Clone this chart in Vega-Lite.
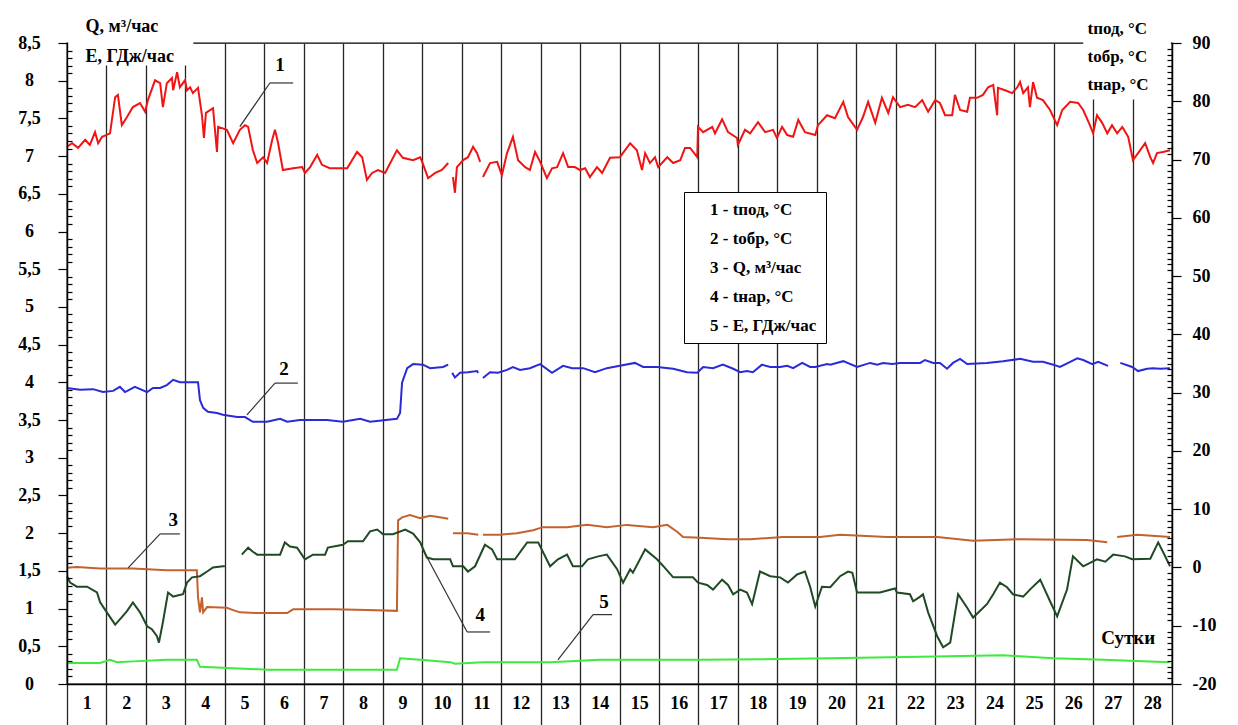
{
"$schema":"https://vega.github.io/schema/vega-lite/v6.json",
"width":1105,"height":641,
"autosize":{"type":"none"},
"padding":{"left":67,"top":43,"right":66,"bottom":41},
"background":"#ffffff",
"config":{"view":{"stroke":"#000000","strokeWidth":1.3},"font":"Liberation Serif"},
"datasets":{
"T":[
{"s":"1","g":"a","d":0.00,"v":72.2},{"s":"1","g":"a","d":0.13,"v":72.8},{"s":"1","g":"a","d":0.28,"v":72.0},{"s":"1","g":"a","d":0.46,"v":73.4},{"s":"1","g":"a","d":0.58,"v":72.5},{"s":"1","g":"a","d":0.71,"v":74.7},{"s":"1","g":"a","d":0.79,"v":72.8},{"s":"1","g":"a","d":0.89,"v":73.9},{"s":"1","g":"a","d":0.99,"v":74.2},{"s":"1","g":"a","d":1.09,"v":74.5},{"s":"1","g":"a","d":1.22,"v":80.7},{"s":"1","g":"a","d":1.29,"v":81.1},{"s":"1","g":"a","d":1.39,"v":75.9},{"s":"1","g":"a","d":1.52,"v":77.3},{"s":"1","g":"a","d":1.67,"v":79.0},{"s":"1","g":"a","d":1.85,"v":79.7},{"s":"1","g":"a","d":1.98,"v":78.2},{"s":"1","g":"a","d":2.05,"v":80.2},{"s":"1","g":"a","d":2.23,"v":83.6},{"s":"1","g":"a","d":2.36,"v":83.1},{"s":"1","g":"a","d":2.43,"v":79.0},{"s":"1","g":"a","d":2.53,"v":83.1},{"s":"1","g":"a","d":2.66,"v":84.0},{"s":"1","g":"a","d":2.69,"v":81.9},{"s":"1","g":"a","d":2.79,"v":85.0},{"s":"1","g":"a","d":2.86,"v":82.4},{"s":"1","g":"a","d":2.99,"v":83.6},{"s":"1","g":"a","d":3.04,"v":81.9},{"s":"1","g":"a","d":3.12,"v":82.4},{"s":"1","g":"a","d":3.19,"v":81.4},{"s":"1","g":"a","d":3.32,"v":82.3},{"s":"1","g":"a","d":3.42,"v":77.6},{"s":"1","g":"a","d":3.47,"v":73.7},{"s":"1","g":"a","d":3.52,"v":78.0},{"s":"1","g":"a","d":3.70,"v":78.8},{"s":"1","g":"a","d":3.80,"v":71.3},{"s":"1","g":"a","d":3.83,"v":75.6},{"s":"1","g":"a","d":3.93,"v":75.4},{"s":"1","g":"a","d":4.05,"v":75.1},{"s":"1","g":"a","d":4.21,"v":72.8},{"s":"1","g":"a","d":4.38,"v":75.1},{"s":"1","g":"a","d":4.51,"v":75.9},{"s":"1","g":"a","d":4.59,"v":75.6},{"s":"1","g":"a","d":4.71,"v":71.6},{"s":"1","g":"a","d":4.82,"v":69.4},{"s":"1","g":"a","d":4.97,"v":70.4},{"s":"1","g":"a","d":5.07,"v":69.4},{"s":"1","g":"a","d":5.20,"v":73.4},{"s":"1","g":"a","d":5.27,"v":75.1},{"s":"1","g":"a","d":5.35,"v":72.8},{"s":"1","g":"a","d":5.47,"v":68.2},{"s":"1","g":"a","d":5.73,"v":68.5},{"s":"1","g":"a","d":5.96,"v":68.7},{"s":"1","g":"a","d":6.03,"v":67.7},{"s":"1","g":"a","d":6.16,"v":68.7},{"s":"1","g":"a","d":6.34,"v":70.8},{"s":"1","g":"a","d":6.46,"v":69.1},{"s":"1","g":"a","d":6.66,"v":68.5},{"s":"1","g":"a","d":7.10,"v":68.5},{"s":"1","g":"a","d":7.35,"v":71.3},{"s":"1","g":"a","d":7.48,"v":70.4},{"s":"1","g":"a","d":7.60,"v":66.5},{"s":"1","g":"a","d":7.73,"v":67.7},{"s":"1","g":"a","d":7.88,"v":68.2},{"s":"1","g":"a","d":8.06,"v":67.7},{"s":"1","g":"a","d":8.36,"v":71.6},{"s":"1","g":"a","d":8.51,"v":70.3},{"s":"1","g":"a","d":8.77,"v":69.9},{"s":"1","g":"a","d":8.95,"v":70.4},{"s":"1","g":"a","d":9.00,"v":69.6},{"s":"1","g":"a","d":9.15,"v":66.8},{"s":"1","g":"a","d":9.33,"v":67.7},{"s":"1","g":"a","d":9.50,"v":68.2},{"s":"1","g":"a","d":9.66,"v":69.4},
{"s":"1","g":"b","d":9.78,"v":67.0},{"s":"1","g":"b","d":9.83,"v":64.3},{"s":"1","g":"b","d":9.88,"v":68.7},{"s":"1","g":"b","d":10.04,"v":69.9},{"s":"1","g":"b","d":10.16,"v":70.4},{"s":"1","g":"b","d":10.29,"v":72.2},{"s":"1","g":"b","d":10.39,"v":71.1},{"s":"1","g":"b","d":10.47,"v":69.6},
{"s":"1","g":"c","d":10.54,"v":67.0},{"s":"1","g":"c","d":10.72,"v":69.4},{"s":"1","g":"c","d":10.90,"v":69.6},{"s":"1","g":"c","d":11.02,"v":67.3},{"s":"1","g":"c","d":11.15,"v":71.1},{"s":"1","g":"c","d":11.30,"v":73.9},{"s":"1","g":"c","d":11.43,"v":69.9},{"s":"1","g":"c","d":11.61,"v":68.7},{"s":"1","g":"c","d":11.73,"v":68.2},{"s":"1","g":"c","d":11.86,"v":71.3},{"s":"1","g":"c","d":11.99,"v":69.6},{"s":"1","g":"c","d":12.16,"v":66.8},{"s":"1","g":"c","d":12.29,"v":68.5},{"s":"1","g":"c","d":12.42,"v":68.7},{"s":"1","g":"c","d":12.57,"v":71.1},{"s":"1","g":"c","d":12.70,"v":68.7},{"s":"1","g":"c","d":12.87,"v":68.7},{"s":"1","g":"c","d":13.00,"v":68.2},{"s":"1","g":"c","d":13.13,"v":68.5},{"s":"1","g":"c","d":13.25,"v":67.0},{"s":"1","g":"c","d":13.43,"v":68.7},{"s":"1","g":"c","d":13.56,"v":67.7},{"s":"1","g":"c","d":13.76,"v":70.3},{"s":"1","g":"c","d":14.01,"v":70.4},{"s":"1","g":"c","d":14.27,"v":72.8},{"s":"1","g":"c","d":14.44,"v":71.6},{"s":"1","g":"c","d":14.57,"v":68.2},{"s":"1","g":"c","d":14.65,"v":71.1},{"s":"1","g":"c","d":14.77,"v":69.4},{"s":"1","g":"c","d":14.90,"v":70.4},{"s":"1","g":"c","d":14.98,"v":68.7},{"s":"1","g":"c","d":15.21,"v":70.4},{"s":"1","g":"c","d":15.36,"v":69.4},{"s":"1","g":"c","d":15.54,"v":69.9},{"s":"1","g":"c","d":15.66,"v":72.0},{"s":"1","g":"c","d":15.79,"v":72.0},{"s":"1","g":"c","d":15.97,"v":70.4},{"s":"1","g":"c","d":15.99,"v":75.6},{"s":"1","g":"c","d":16.12,"v":74.7},{"s":"1","g":"c","d":16.35,"v":75.6},{"s":"1","g":"c","d":16.42,"v":74.5},{"s":"1","g":"c","d":16.60,"v":76.9},{"s":"1","g":"c","d":16.75,"v":74.7},{"s":"1","g":"c","d":16.98,"v":73.7},{"s":"1","g":"c","d":17.00,"v":72.5},{"s":"1","g":"c","d":17.18,"v":75.1},{"s":"1","g":"c","d":17.31,"v":74.5},{"s":"1","g":"c","d":17.51,"v":76.4},{"s":"1","g":"c","d":17.69,"v":74.7},{"s":"1","g":"c","d":17.89,"v":75.1},{"s":"1","g":"c","d":17.99,"v":73.7},{"s":"1","g":"c","d":18.12,"v":75.6},{"s":"1","g":"c","d":18.25,"v":74.2},{"s":"1","g":"c","d":18.40,"v":73.9},{"s":"1","g":"c","d":18.53,"v":76.8},{"s":"1","g":"c","d":18.70,"v":74.7},{"s":"1","g":"c","d":18.96,"v":74.2},{"s":"1","g":"c","d":19.03,"v":75.9},{"s":"1","g":"c","d":19.26,"v":77.6},{"s":"1","g":"c","d":19.46,"v":77.1},{"s":"1","g":"c","d":19.67,"v":79.9},{"s":"1","g":"c","d":19.79,"v":77.3},{"s":"1","g":"c","d":20.02,"v":75.1},{"s":"1","g":"c","d":20.17,"v":77.3},{"s":"1","g":"c","d":20.30,"v":79.9},{"s":"1","g":"c","d":20.48,"v":76.3},{"s":"1","g":"c","d":20.65,"v":80.6},{"s":"1","g":"c","d":20.81,"v":78.0},{"s":"1","g":"c","d":20.93,"v":80.7},{"s":"1","g":"c","d":21.11,"v":79.0},{"s":"1","g":"c","d":21.31,"v":79.4},{"s":"1","g":"c","d":21.49,"v":79.0},{"s":"1","g":"c","d":21.67,"v":80.2},{"s":"1","g":"c","d":21.82,"v":78.2},{"s":"1","g":"c","d":22.00,"v":80.2},{"s":"1","g":"c","d":22.12,"v":79.7},{"s":"1","g":"c","d":22.25,"v":77.6},{"s":"1","g":"c","d":22.43,"v":77.6},{"s":"1","g":"c","d":22.50,"v":81.1},{"s":"1","g":"c","d":22.63,"v":78.5},{"s":"1","g":"c","d":22.81,"v":78.2},{"s":"1","g":"c","d":22.88,"v":80.6},{"s":"1","g":"c","d":23.06,"v":80.6},{"s":"1","g":"c","d":23.21,"v":81.1},{"s":"1","g":"c","d":23.34,"v":82.4},{"s":"1","g":"c","d":23.47,"v":82.8},{"s":"1","g":"c","d":23.57,"v":77.6},{"s":"1","g":"c","d":23.59,"v":82.3},{"s":"1","g":"c","d":23.77,"v":81.9},{"s":"1","g":"c","d":23.95,"v":81.4},{"s":"1","g":"c","d":24.08,"v":82.4},{"s":"1","g":"c","d":24.15,"v":83.3},{"s":"1","g":"c","d":24.23,"v":81.4},{"s":"1","g":"c","d":24.35,"v":82.4},{"s":"1","g":"c","d":24.40,"v":79.0},{"s":"1","g":"c","d":24.48,"v":83.3},{"s":"1","g":"c","d":24.58,"v":80.6},{"s":"1","g":"c","d":24.73,"v":80.2},{"s":"1","g":"c","d":24.91,"v":78.5},{"s":"1","g":"c","d":25.09,"v":75.9},{"s":"1","g":"c","d":25.22,"v":78.5},{"s":"1","g":"c","d":25.42,"v":79.9},{"s":"1","g":"c","d":25.62,"v":79.7},{"s":"1","g":"c","d":25.75,"v":78.5},{"s":"1","g":"c","d":25.92,"v":75.9},{"s":"1","g":"c","d":26.00,"v":74.5},{"s":"1","g":"c","d":26.10,"v":77.6},{"s":"1","g":"c","d":26.23,"v":76.3},{"s":"1","g":"c","d":26.36,"v":74.5},{"s":"1","g":"c","d":26.48,"v":75.9},{"s":"1","g":"c","d":26.61,"v":74.5},{"s":"1","g":"c","d":26.74,"v":75.6},{"s":"1","g":"c","d":26.89,"v":73.9},{"s":"1","g":"c","d":27.01,"v":69.9},{"s":"1","g":"c","d":27.14,"v":71.1},{"s":"1","g":"c","d":27.32,"v":72.8},{"s":"1","g":"c","d":27.45,"v":70.4},{"s":"1","g":"c","d":27.52,"v":69.4},{"s":"1","g":"c","d":27.62,"v":71.1},{"s":"1","g":"c","d":27.77,"v":71.3},{"s":"1","g":"c","d":27.95,"v":71.6},
{"s":"2","g":"a","d":0.00,"v":30.8},{"s":"2","g":"a","d":0.33,"v":30.5},{"s":"2","g":"a","d":0.66,"v":30.6},{"s":"2","g":"a","d":0.91,"v":30.1},{"s":"2","g":"a","d":1.17,"v":30.3},{"s":"2","g":"a","d":1.34,"v":31.0},{"s":"2","g":"a","d":1.47,"v":30.1},{"s":"2","g":"a","d":1.72,"v":31.0},{"s":"2","g":"a","d":2.03,"v":30.1},{"s":"2","g":"a","d":2.18,"v":30.8},{"s":"2","g":"a","d":2.36,"v":30.8},{"s":"2","g":"a","d":2.53,"v":31.3},{"s":"2","g":"a","d":2.69,"v":32.2},{"s":"2","g":"a","d":2.86,"v":31.8},{"s":"2","g":"a","d":3.32,"v":31.8},{"s":"2","g":"a","d":3.37,"v":28.7},{"s":"2","g":"a","d":3.45,"v":27.4},{"s":"2","g":"a","d":3.57,"v":26.7},{"s":"2","g":"a","d":3.80,"v":26.5},{"s":"2","g":"a","d":3.95,"v":26.2},{"s":"2","g":"a","d":4.31,"v":25.8},{"s":"2","g":"a","d":4.51,"v":25.8},{"s":"2","g":"a","d":4.71,"v":25.0},{"s":"2","g":"a","d":5.07,"v":25.0},{"s":"2","g":"a","d":5.40,"v":25.5},{"s":"2","g":"a","d":5.58,"v":25.0},{"s":"2","g":"a","d":5.90,"v":25.3},{"s":"2","g":"a","d":6.59,"v":25.3},{"s":"2","g":"a","d":6.99,"v":25.0},{"s":"2","g":"a","d":7.43,"v":25.5},{"s":"2","g":"a","d":7.68,"v":25.0},{"s":"2","g":"a","d":8.36,"v":25.5},{"s":"2","g":"a","d":8.44,"v":26.5},{"s":"2","g":"a","d":8.49,"v":31.7},{"s":"2","g":"a","d":8.62,"v":34.2},{"s":"2","g":"a","d":8.77,"v":34.9},{"s":"2","g":"a","d":9.02,"v":34.8},{"s":"2","g":"a","d":9.20,"v":34.2},{"s":"2","g":"a","d":9.53,"v":34.4},{"s":"2","g":"a","d":9.66,"v":34.8},
{"s":"2","g":"b","d":9.76,"v":33.4},{"s":"2","g":"b","d":9.83,"v":32.6},{"s":"2","g":"b","d":9.96,"v":33.4},{"s":"2","g":"b","d":10.16,"v":33.5},{"s":"2","g":"b","d":10.39,"v":33.7},{"s":"2","g":"b","d":10.42,"v":33.4},
{"s":"2","g":"c","d":10.54,"v":32.5},{"s":"2","g":"c","d":10.72,"v":33.5},{"s":"2","g":"c","d":10.92,"v":33.4},{"s":"2","g":"c","d":11.15,"v":33.9},{"s":"2","g":"c","d":11.30,"v":34.4},{"s":"2","g":"c","d":11.48,"v":33.9},{"s":"2","g":"c","d":11.73,"v":34.2},{"s":"2","g":"c","d":11.99,"v":34.9},{"s":"2","g":"c","d":12.29,"v":33.4},{"s":"2","g":"c","d":12.57,"v":34.6},{"s":"2","g":"c","d":12.80,"v":34.2},{"s":"2","g":"c","d":13.08,"v":34.2},{"s":"2","g":"c","d":13.38,"v":33.5},{"s":"2","g":"c","d":13.68,"v":34.2},{"s":"2","g":"c","d":14.01,"v":34.6},{"s":"2","g":"c","d":14.39,"v":35.1},{"s":"2","g":"c","d":14.60,"v":34.4},{"s":"2","g":"c","d":14.95,"v":34.4},{"s":"2","g":"c","d":15.36,"v":34.1},{"s":"2","g":"c","d":15.71,"v":33.5},{"s":"2","g":"c","d":15.97,"v":33.4},{"s":"2","g":"c","d":16.12,"v":34.4},{"s":"2","g":"c","d":16.37,"v":34.2},{"s":"2","g":"c","d":16.62,"v":34.8},{"s":"2","g":"c","d":16.88,"v":34.1},{"s":"2","g":"c","d":17.06,"v":33.5},{"s":"2","g":"c","d":17.23,"v":33.7},{"s":"2","g":"c","d":17.38,"v":33.5},{"s":"2","g":"c","d":17.61,"v":34.8},{"s":"2","g":"c","d":17.82,"v":34.4},{"s":"2","g":"c","d":18.07,"v":34.4},{"s":"2","g":"c","d":18.25,"v":34.6},{"s":"2","g":"c","d":18.40,"v":34.2},{"s":"2","g":"c","d":18.63,"v":35.1},{"s":"2","g":"c","d":18.83,"v":34.4},{"s":"2","g":"c","d":18.96,"v":34.4},{"s":"2","g":"c","d":19.26,"v":34.9},{"s":"2","g":"c","d":19.34,"v":34.8},{"s":"2","g":"c","d":19.67,"v":35.4},{"s":"2","g":"c","d":20.02,"v":34.4},{"s":"2","g":"c","d":20.35,"v":35.1},{"s":"2","g":"c","d":20.53,"v":34.8},{"s":"2","g":"c","d":20.68,"v":35.1},{"s":"2","g":"c","d":20.91,"v":34.9},{"s":"2","g":"c","d":21.11,"v":35.1},{"s":"2","g":"c","d":21.62,"v":35.1},{"s":"2","g":"c","d":21.74,"v":35.6},{"s":"2","g":"c","d":21.95,"v":35.1},{"s":"2","g":"c","d":22.12,"v":35.1},{"s":"2","g":"c","d":22.30,"v":34.1},{"s":"2","g":"c","d":22.45,"v":35.1},{"s":"2","g":"c","d":22.63,"v":35.8},{"s":"2","g":"c","d":22.81,"v":34.9},{"s":"2","g":"c","d":23.31,"v":35.1},{"s":"2","g":"c","d":23.72,"v":35.4},{"s":"2","g":"c","d":24.15,"v":35.8},{"s":"2","g":"c","d":24.48,"v":35.3},{"s":"2","g":"c","d":24.73,"v":35.3},{"s":"2","g":"c","d":24.99,"v":34.8},{"s":"2","g":"c","d":25.16,"v":34.4},{"s":"2","g":"c","d":25.37,"v":35.1},{"s":"2","g":"c","d":25.60,"v":35.9},{"s":"2","g":"c","d":25.75,"v":35.6},{"s":"2","g":"c","d":25.98,"v":34.9},{"s":"2","g":"c","d":26.13,"v":35.3},{"s":"2","g":"c","d":26.38,"v":34.6},
{"s":"2","g":"d","d":26.69,"v":35.1},{"s":"2","g":"d","d":26.99,"v":34.4},{"s":"2","g":"d","d":27.14,"v":33.7},{"s":"2","g":"d","d":27.37,"v":34.1},{"s":"2","g":"d","d":27.52,"v":34.2},{"s":"2","g":"d","d":27.70,"v":34.1},{"s":"2","g":"d","d":27.95,"v":34.2},
{"s":"4","g":"a","d":0.00,"v":-1.5},{"s":"4","g":"a","d":0.08,"v":-2.6},{"s":"4","g":"a","d":0.25,"v":-3.3},{"s":"4","g":"a","d":0.51,"v":-3.3},{"s":"4","g":"a","d":0.76,"v":-4.3},{"s":"4","g":"a","d":0.84,"v":-6.0},{"s":"4","g":"a","d":1.01,"v":-7.7},{"s":"4","g":"a","d":1.22,"v":-9.8},{"s":"4","g":"a","d":1.34,"v":-8.9},{"s":"4","g":"a","d":1.52,"v":-7.5},{"s":"4","g":"a","d":1.67,"v":-6.0},{"s":"4","g":"a","d":1.85,"v":-7.7},{"s":"4","g":"a","d":2.03,"v":-10.1},{"s":"4","g":"a","d":2.15,"v":-10.6},{"s":"4","g":"a","d":2.28,"v":-11.8},{"s":"4","g":"a","d":2.33,"v":-12.9},{"s":"4","g":"a","d":2.43,"v":-9.4},{"s":"4","g":"a","d":2.56,"v":-4.3},{"s":"4","g":"a","d":2.69,"v":-5.0},{"s":"4","g":"a","d":2.94,"v":-4.6},{"s":"4","g":"a","d":3.04,"v":-2.6},{"s":"4","g":"a","d":3.17,"v":-1.7},{"s":"4","g":"a","d":3.37,"v":-1.5},{"s":"4","g":"a","d":3.55,"v":-0.7},{"s":"4","g":"a","d":3.70,"v":0.0},{"s":"4","g":"a","d":3.95,"v":0.2},{"s":"4","g":"a","d":4.00,"v":0.2},
{"s":"4","g":"b","d":4.43,"v":2.2},{"s":"4","g":"b","d":4.59,"v":3.4},{"s":"4","g":"b","d":4.71,"v":2.7},{"s":"4","g":"b","d":4.82,"v":2.2},{"s":"4","g":"b","d":5.40,"v":2.2},{"s":"4","g":"b","d":5.52,"v":4.3},{"s":"4","g":"b","d":5.65,"v":3.6},{"s":"4","g":"b","d":5.83,"v":3.4},{"s":"4","g":"b","d":6.03,"v":1.4},{"s":"4","g":"b","d":6.23,"v":2.2},{"s":"4","g":"b","d":6.54,"v":2.2},{"s":"4","g":"b","d":6.61,"v":3.4},{"s":"4","g":"b","d":6.99,"v":3.9},{"s":"4","g":"b","d":7.12,"v":4.5},{"s":"4","g":"b","d":7.50,"v":4.5},{"s":"4","g":"b","d":7.68,"v":6.2},{"s":"4","g":"b","d":7.86,"v":6.5},{"s":"4","g":"b","d":8.01,"v":5.7},{"s":"4","g":"b","d":8.26,"v":5.7},{"s":"4","g":"b","d":8.57,"v":6.5},{"s":"4","g":"b","d":8.77,"v":5.8},{"s":"4","g":"b","d":8.95,"v":4.3},{"s":"4","g":"b","d":9.12,"v":1.7},{"s":"4","g":"b","d":9.28,"v":1.4},{"s":"4","g":"b","d":9.71,"v":1.4},{"s":"4","g":"b","d":9.78,"v":0.2},{"s":"4","g":"b","d":10.04,"v":0.2},{"s":"4","g":"b","d":10.16,"v":-0.7},{"s":"4","g":"b","d":10.34,"v":0.2},{"s":"4","g":"b","d":10.59,"v":3.9},{"s":"4","g":"b","d":10.77,"v":3.1},{"s":"4","g":"b","d":10.90,"v":1.4},{"s":"4","g":"b","d":11.35,"v":1.4},{"s":"4","g":"b","d":11.66,"v":4.3},{"s":"4","g":"b","d":11.94,"v":4.3},{"s":"4","g":"b","d":12.24,"v":0.2},{"s":"4","g":"b","d":12.44,"v":1.4},{"s":"4","g":"b","d":12.67,"v":2.2},{"s":"4","g":"b","d":12.82,"v":0.2},{"s":"4","g":"b","d":13.05,"v":0.2},{"s":"4","g":"b","d":13.20,"v":1.4},{"s":"4","g":"b","d":13.46,"v":1.9},{"s":"4","g":"b","d":13.68,"v":2.2},{"s":"4","g":"b","d":13.94,"v":-0.3},{"s":"4","g":"b","d":14.09,"v":-2.6},{"s":"4","g":"b","d":14.27,"v":-0.3},{"s":"4","g":"b","d":14.34,"v":-0.9},{"s":"4","g":"b","d":14.65,"v":3.1},{"s":"4","g":"b","d":14.95,"v":1.4},{"s":"4","g":"b","d":15.10,"v":0.3},{"s":"4","g":"b","d":15.36,"v":-1.7},{"s":"4","g":"b","d":15.86,"v":-1.7},{"s":"4","g":"b","d":15.99,"v":-2.6},{"s":"4","g":"b","d":16.22,"v":-3.0},{"s":"4","g":"b","d":16.37,"v":-3.8},{"s":"4","g":"b","d":16.60,"v":-2.1},{"s":"4","g":"b","d":16.75,"v":-3.0},{"s":"4","g":"b","d":16.88,"v":-4.6},{"s":"4","g":"b","d":17.06,"v":-3.8},{"s":"4","g":"b","d":17.23,"v":-4.3},{"s":"4","g":"b","d":17.36,"v":-6.3},{"s":"4","g":"b","d":17.56,"v":-0.7},{"s":"4","g":"b","d":17.82,"v":-1.5},{"s":"4","g":"b","d":18.07,"v":-1.7},{"s":"4","g":"b","d":18.27,"v":-2.6},{"s":"4","g":"b","d":18.50,"v":-1.2},{"s":"4","g":"b","d":18.70,"v":-0.7},{"s":"4","g":"b","d":18.83,"v":-3.3},{"s":"4","g":"b","d":18.96,"v":-6.7},{"s":"4","g":"b","d":19.13,"v":-3.3},{"s":"4","g":"b","d":19.34,"v":-3.4},{"s":"4","g":"b","d":19.59,"v":-1.5},{"s":"4","g":"b","d":19.79,"v":-0.7},{"s":"4","g":"b","d":19.90,"v":-0.9},{"s":"4","g":"b","d":20.02,"v":-4.3},{"s":"4","g":"b","d":20.60,"v":-4.3},{"s":"4","g":"b","d":20.98,"v":-3.6},{"s":"4","g":"b","d":21.03,"v":-4.3},{"s":"4","g":"b","d":21.36,"v":-4.6},{"s":"4","g":"b","d":21.44,"v":-5.8},{"s":"4","g":"b","d":21.62,"v":-5.0},{"s":"4","g":"b","d":21.69,"v":-4.6},{"s":"4","g":"b","d":21.82,"v":-7.7},{"s":"4","g":"b","d":22.05,"v":-11.8},{"s":"4","g":"b","d":22.20,"v":-13.7},{"s":"4","g":"b","d":22.38,"v":-12.9},{"s":"4","g":"b","d":22.58,"v":-4.6},{"s":"4","g":"b","d":22.81,"v":-6.9},{"s":"4","g":"b","d":22.96,"v":-8.6},{"s":"4","g":"b","d":23.31,"v":-6.3},{"s":"4","g":"b","d":23.47,"v":-4.6},{"s":"4","g":"b","d":23.64,"v":-2.6},{"s":"4","g":"b","d":23.82,"v":-3.4},{"s":"4","g":"b","d":23.97,"v":-4.6},{"s":"4","g":"b","d":24.23,"v":-5.0},{"s":"4","g":"b","d":24.40,"v":-3.8},{"s":"4","g":"b","d":24.66,"v":-2.1},{"s":"4","g":"b","d":24.91,"v":-5.8},{"s":"4","g":"b","d":25.09,"v":-8.4},{"s":"4","g":"b","d":25.34,"v":-3.8},{"s":"4","g":"b","d":25.49,"v":1.9},{"s":"4","g":"b","d":25.75,"v":0.2},{"s":"4","g":"b","d":26.10,"v":1.4},{"s":"4","g":"b","d":26.31,"v":1.0},{"s":"4","g":"b","d":26.51,"v":2.2},{"s":"4","g":"b","d":26.81,"v":1.9},{"s":"4","g":"b","d":26.99,"v":1.4},{"s":"4","g":"b","d":27.45,"v":1.5},{"s":"4","g":"b","d":27.65,"v":4.3},{"s":"4","g":"b","d":27.77,"v":2.7},{"s":"4","g":"b","d":27.95,"v":0.2}
],
"L":[
{"s":"3","g":"a","d":0.00,"v":1.54},{"s":"3","g":"a","d":0.25,"v":1.55},{"s":"3","g":"a","d":0.84,"v":1.53},{"s":"3","g":"a","d":1.67,"v":1.53},{"s":"3","g":"a","d":2.53,"v":1.51},{"s":"3","g":"a","d":3.29,"v":1.51},{"s":"3","g":"a","d":3.32,"v":1.15},{"s":"3","g":"a","d":3.37,"v":0.95},{"s":"3","g":"a","d":3.42,"v":1.15},{"s":"3","g":"a","d":3.45,"v":0.95},{"s":"3","g":"a","d":3.55,"v":1.02},{"s":"3","g":"a","d":4.05,"v":1.01},{"s":"3","g":"a","d":4.21,"v":0.98},{"s":"3","g":"a","d":4.38,"v":0.95},{"s":"3","g":"a","d":4.89,"v":0.94},{"s":"3","g":"a","d":5.22,"v":0.94},{"s":"3","g":"a","d":5.58,"v":0.94},{"s":"3","g":"a","d":5.73,"v":0.99},{"s":"3","g":"a","d":6.74,"v":0.99},{"s":"3","g":"a","d":7.60,"v":0.98},{"s":"3","g":"a","d":8.36,"v":0.97},{"s":"3","g":"a","d":8.39,"v":2.17},{"s":"3","g":"a","d":8.49,"v":2.21},{"s":"3","g":"a","d":8.69,"v":2.24},{"s":"3","g":"a","d":8.95,"v":2.20},{"s":"3","g":"a","d":9.20,"v":2.23},{"s":"3","g":"a","d":9.45,"v":2.21},{"s":"3","g":"a","d":9.66,"v":2.19},
{"s":"3","g":"b","d":9.78,"v":2.00},{"s":"3","g":"b","d":10.14,"v":2.00},{"s":"3","g":"b","d":10.42,"v":1.98},
{"s":"3","g":"c","d":10.54,"v":1.98},{"s":"3","g":"c","d":10.97,"v":1.98},{"s":"3","g":"c","d":11.40,"v":2.00},{"s":"3","g":"c","d":11.81,"v":2.04},{"s":"3","g":"c","d":12.06,"v":2.08},{"s":"3","g":"c","d":12.67,"v":2.08},{"s":"3","g":"c","d":13.18,"v":2.11},{"s":"3","g":"c","d":13.68,"v":2.08},{"s":"3","g":"c","d":14.19,"v":2.11},{"s":"3","g":"c","d":14.85,"v":2.08},{"s":"3","g":"c","d":15.21,"v":2.11},{"s":"3","g":"c","d":15.46,"v":2.02},{"s":"3","g":"c","d":15.61,"v":1.95},{"s":"3","g":"c","d":16.04,"v":1.94},{"s":"3","g":"c","d":16.73,"v":1.92},{"s":"3","g":"c","d":17.31,"v":1.92},{"s":"3","g":"c","d":18.14,"v":1.95},{"s":"3","g":"c","d":19.08,"v":1.95},{"s":"3","g":"c","d":19.59,"v":1.98},{"s":"3","g":"c","d":20.78,"v":1.95},{"s":"3","g":"c","d":22.05,"v":1.95},{"s":"3","g":"c","d":22.96,"v":1.90},{"s":"3","g":"c","d":24.15,"v":1.92},{"s":"3","g":"c","d":25.85,"v":1.91},{"s":"3","g":"c","d":26.36,"v":1.88},
{"s":"3","g":"d","d":26.61,"v":1.95},{"s":"3","g":"d","d":27.12,"v":1.98},{"s":"3","g":"d","d":27.95,"v":1.95},
{"s":"5","g":"a","d":0.00,"v":0.28},{"s":"5","g":"a","d":0.84,"v":0.28},{"s":"5","g":"a","d":1.09,"v":0.32},{"s":"5","g":"a","d":1.27,"v":0.29},{"s":"5","g":"a","d":1.67,"v":0.30},{"s":"5","g":"a","d":2.53,"v":0.32},{"s":"5","g":"a","d":3.29,"v":0.32},{"s":"5","g":"a","d":3.37,"v":0.23},{"s":"5","g":"a","d":4.21,"v":0.21},{"s":"5","g":"a","d":5.07,"v":0.19},{"s":"5","g":"a","d":5.90,"v":0.19},{"s":"5","g":"a","d":6.74,"v":0.19},{"s":"5","g":"a","d":8.36,"v":0.19},{"s":"5","g":"a","d":8.44,"v":0.34},{"s":"5","g":"a","d":8.95,"v":0.32},{"s":"5","g":"a","d":9.71,"v":0.29},{"s":"5","g":"a","d":9.83,"v":0.27},{"s":"5","g":"a","d":10.54,"v":0.29},{"s":"5","g":"a","d":12.24,"v":0.29},{"s":"5","g":"a","d":13.51,"v":0.32},{"s":"5","g":"a","d":16.04,"v":0.32},{"s":"5","g":"a","d":19.34,"v":0.34},{"s":"5","g":"a","d":21.62,"v":0.36},{"s":"5","g":"a","d":23.72,"v":0.38},{"s":"5","g":"a","d":24.99,"v":0.34},{"s":"5","g":"a","d":26.26,"v":0.32},{"s":"5","g":"a","d":27.95,"v":0.29}
],
"ann":[
{"x":5.14,"y":7.97,"x2":5.73,"y2":7.97},{"x":5.14,"y":7.97,"x2":4.38,"y2":7.39},
{"x":5.27,"y":3.99,"x2":5.85,"y2":3.99},{"x":5.27,"y":3.99,"x2":4.56,"y2":3.57},
{"x":2.36,"y":1.99,"x2":2.86,"y2":1.99},{"x":2.36,"y":1.99,"x2":1.55,"y2":1.54},
{"x":10.14,"y":0.69,"x2":10.72,"y2":0.69},{"x":10.14,"y":0.69,"x2":9.02,"y2":1.78},
{"x":13.33,"y":0.92,"x2":13.81,"y2":0.92},{"x":13.33,"y":0.92,"x2":12.44,"y2":0.32}
],
"lab":[
{"t":"1","x":5.40,"y":8.21},{"t":"2","x":5.50,"y":4.18},{"t":"3","x":2.69,"y":2.17},{"t":"4","x":10.47,"y":0.92},{"t":"5","x":13.61,"y":1.09},{"t":"Сутки","x":26.89,"y":0.61}
],
"mask":[
{"x":0.03,"x2":3.2,"y":8.2,"y2":8.65},{"x":25.75,"x2":27.97,"y":7.75,"y2":8.65}
]
},
"layer":[
{"layer":[
 {"data":{"name":"mask"},"mark":{"type":"rect","fill":"#ffffff"},
  "encoding":{"x":{"field":"x","type":"quantitative","scale":{"domain":[0,28],"nice":false,"zero":false}},"x2":{"field":"x2"},
   "y":{"field":"y","type":"quantitative","scale":{"domain":[0,8.5],"nice":false,"zero":false}},"y2":{"field":"y2"}}},
 {"data":{"name":"L"},"mark":{"type":"line","strokeWidth":2},
  "encoding":{
   "x":{"field":"d","type":"quantitative","scale":{"domain":[0,28],"nice":false,"zero":false},
    "axis":{"tickCount":1000,"values":[0,0.5,1,1.5,2,2.5,3,3.5,4,4.5,5,5.5,6,6.5,7,7.5,8,8.5,9,9.5,10,10.5,11,11.5,12,12.5,13,13.5,14,14.5,15,15.5,16,16.5,17,17.5,18,18.5,19,19.5,20,20.5,21,21.5,22,22.5,23,23.5,24,24.5,25,25.5,26,26.5,27,27.5,28],
     "labelExpr":"datum.value % 1 == 0.5 ? '' + (floor(datum.value) + 1) : ''",
     "tickSize":{"condition":{"test":"datum.value % 1 == 0","value":41},"value":0},
     "grid":true,"gridOpacity":{"condition":{"test":"datum.value % 1 == 0","value":1},"value":0},
     "gridColor":"#262626","gridWidth":1.3,"tickColor":"#262626","tickWidth":1.3,
     "labelFont":"Liberation Serif","labelFontSize":18,"labelFontWeight":"bold","labelColor":"#000000",
     "labelBaseline":"middle","labelPadding":19,"labelOverlap":false,"labelFlush":false,"labelBound":false,
     "domainColor":"#000000","domainWidth":1.3,"title":null,"zindex":0}},
   "y":{"field":"v","type":"quantitative","scale":{"domain":[0,8.5],"nice":false,"zero":false},
    "axis":{"orient":"left","zindex":1,"tickCount":1000,"values":[0,0.1,0.2,0.3,0.4,0.5,0.6,0.7,0.8,0.9,1,1.1,1.2,1.3,1.4,1.5,1.6,1.7,1.8,1.9,2,2.1,2.2,2.3,2.4,2.5,2.6,2.7,2.8,2.9,3,3.1,3.2,3.3,3.4,3.5,3.6,3.7,3.8,3.9,4,4.1,4.2,4.3,4.4,4.5,4.6,4.7,4.8,4.9,5,5.1,5.2,5.3,5.4,5.5,5.6,5.7,5.8,5.9,6,6.1,6.2,6.3,6.4,6.5,6.6,6.7,6.8,6.9,7,7.1,7.2,7.3,7.4,7.5,7.6,7.7,7.8,7.9,8,8.1,8.2,8.3,8.4,8.5],
     "labelExpr":"round(datum.value*10) % 5 == 0 ? replace(format(datum.value, '.1~f'), '.', ',') : ''",
     "tickSize":{"condition":{"test":"round(datum.value*10) % 5 == 0","value":9},"value":-5},
     "tickColor":"#000000","tickWidth":1.2,
     "labelAlign":"center","labelBaseline":"middle","labelPadding":29,
     "labelFont":"Liberation Serif","labelFontSize":18,"labelFontWeight":"bold","labelColor":"#000000",
     "labelOverlap":false,"labelFlush":false,"labelBound":false,"grid":false,
     "domainColor":"#000000","domainWidth":1.3,
     "title":["Q, м³/час","E, ГДж/час"],"titleAngle":0,"titleAlign":"left","titleBaseline":"top","titleX":18,"titleY":-26,
     "titleFont":"Liberation Serif","titleFontSize":18,"titleFontWeight":"bold","titleColor":"#000000","titleLineHeight":30}},
   "color":{"field":"s","type":"nominal",
    "scale":{"domain":["1","2","3","4","5"],"range":["#f01414","#2a2ad8","#c4622e","#1f4a24","#3fea3f"]},
    "legend":{"orient":"none","legendX":617,"legendY":149,"title":null,"direction":"vertical",
     "labelExpr":"datum.label == '1' ? '1 - tпод, °C' : datum.label == '2' ? '2 - tобр, °C' : datum.label == '3' ? '3 - Q, м³/час' : datum.label == '4' ? '4 - tнар, °C' : '5 - E, ГДж/час'",
     "symbolSize":0,"symbolStrokeWidth":0,"symbolOpacity":0,"labelOffset":0,
     "labelFont":"Liberation Serif","labelFontSize":17,"labelFontWeight":"bold","labelColor":"#000000",
     "strokeColor":"#000000","fillColor":"#ffffff","padding":9,"rowPadding":11}},
   "detail":{"field":"g","type":"nominal"}}},
 {"data":{"name":"ann"},"mark":{"type":"rule","color":"#333333","strokeWidth":1.2},
  "encoding":{"x":{"field":"x","type":"quantitative","scale":{"domain":[0,28],"nice":false,"zero":false}},"x2":{"field":"x2"},
   "y":{"field":"y","type":"quantitative","scale":{"domain":[0,8.5],"nice":false,"zero":false}},"y2":{"field":"y2"}}},
 {"data":{"name":"lab"},"mark":{"type":"text","font":"Liberation Serif","fontSize":19,"fontWeight":"bold","color":"#000000","baseline":"middle","align":"center"},
  "encoding":{"x":{"field":"x","type":"quantitative","scale":{"domain":[0,28],"nice":false,"zero":false}},
   "y":{"field":"y","type":"quantitative","scale":{"domain":[0,8.5],"nice":false,"zero":false}},"text":{"field":"t"}}}
]},
{"layer":[
 {"data":{"name":"T"},"mark":{"type":"line","strokeWidth":2},
  "encoding":{
   "x":{"field":"d","type":"quantitative","scale":{"domain":[0,28],"nice":false,"zero":false}},
   "y":{"field":"v","type":"quantitative","scale":{"domain":[-20,90],"nice":false,"zero":false},
    "axis":{"orient":"right","zindex":1,"tickCount":1000,"values":[-20,-19,-18,-17,-16,-15,-14,-13,-12,-11,-10,-9,-8,-7,-6,-5,-4,-3,-2,-1,0,1,2,3,4,5,6,7,8,9,10,11,12,13,14,15,16,17,18,19,20,21,22,23,24,25,26,27,28,29,30,31,32,33,34,35,36,37,38,39,40,41,42,43,44,45,46,47,48,49,50,51,52,53,54,55,56,57,58,59,60,61,62,63,64,65,66,67,68,69,70,71,72,73,74,75,76,77,78,79,80,81,82,83,84,85,86,87,88,89,90],
     "labelExpr":"datum.value % 10 == 0 ? '' + datum.value : ''",
     "tickSize":{"condition":{"test":"datum.value % 10 == 0","value":9},"value":-5},
     "tickColor":"#000000","tickWidth":1.2,
     "labelAlign":"left","labelBaseline":"middle","labelPadding":11,
     "labelFont":"Liberation Serif","labelFontSize":18,"labelFontWeight":"bold","labelColor":"#000000",
     "labelOverlap":false,"labelFlush":false,"labelBound":false,"grid":false,
     "domainColor":"#000000","domainWidth":1.3,
     "title":["tпод,  °C","tобр,  °C","tнар,  °C"],"titleAngle":0,"titleAlign":"left","titleBaseline":"top","titleX":-85,"titleY":-23,
     "titleFont":"Liberation Serif","titleFontSize":17,"titleFontWeight":"bold","titleColor":"#000000","titleLineHeight":28}},
   "color":{"field":"s","type":"nominal","scale":{"domain":["1","2","3","4","5"],"range":["#f01414","#2a2ad8","#c4622e","#1f4a24","#3fea3f"]}},
   "detail":{"field":"g","type":"nominal"}}}
]}
],
"resolve":{"scale":{"y":"independent"},"axis":{"y":"independent"}}
}
